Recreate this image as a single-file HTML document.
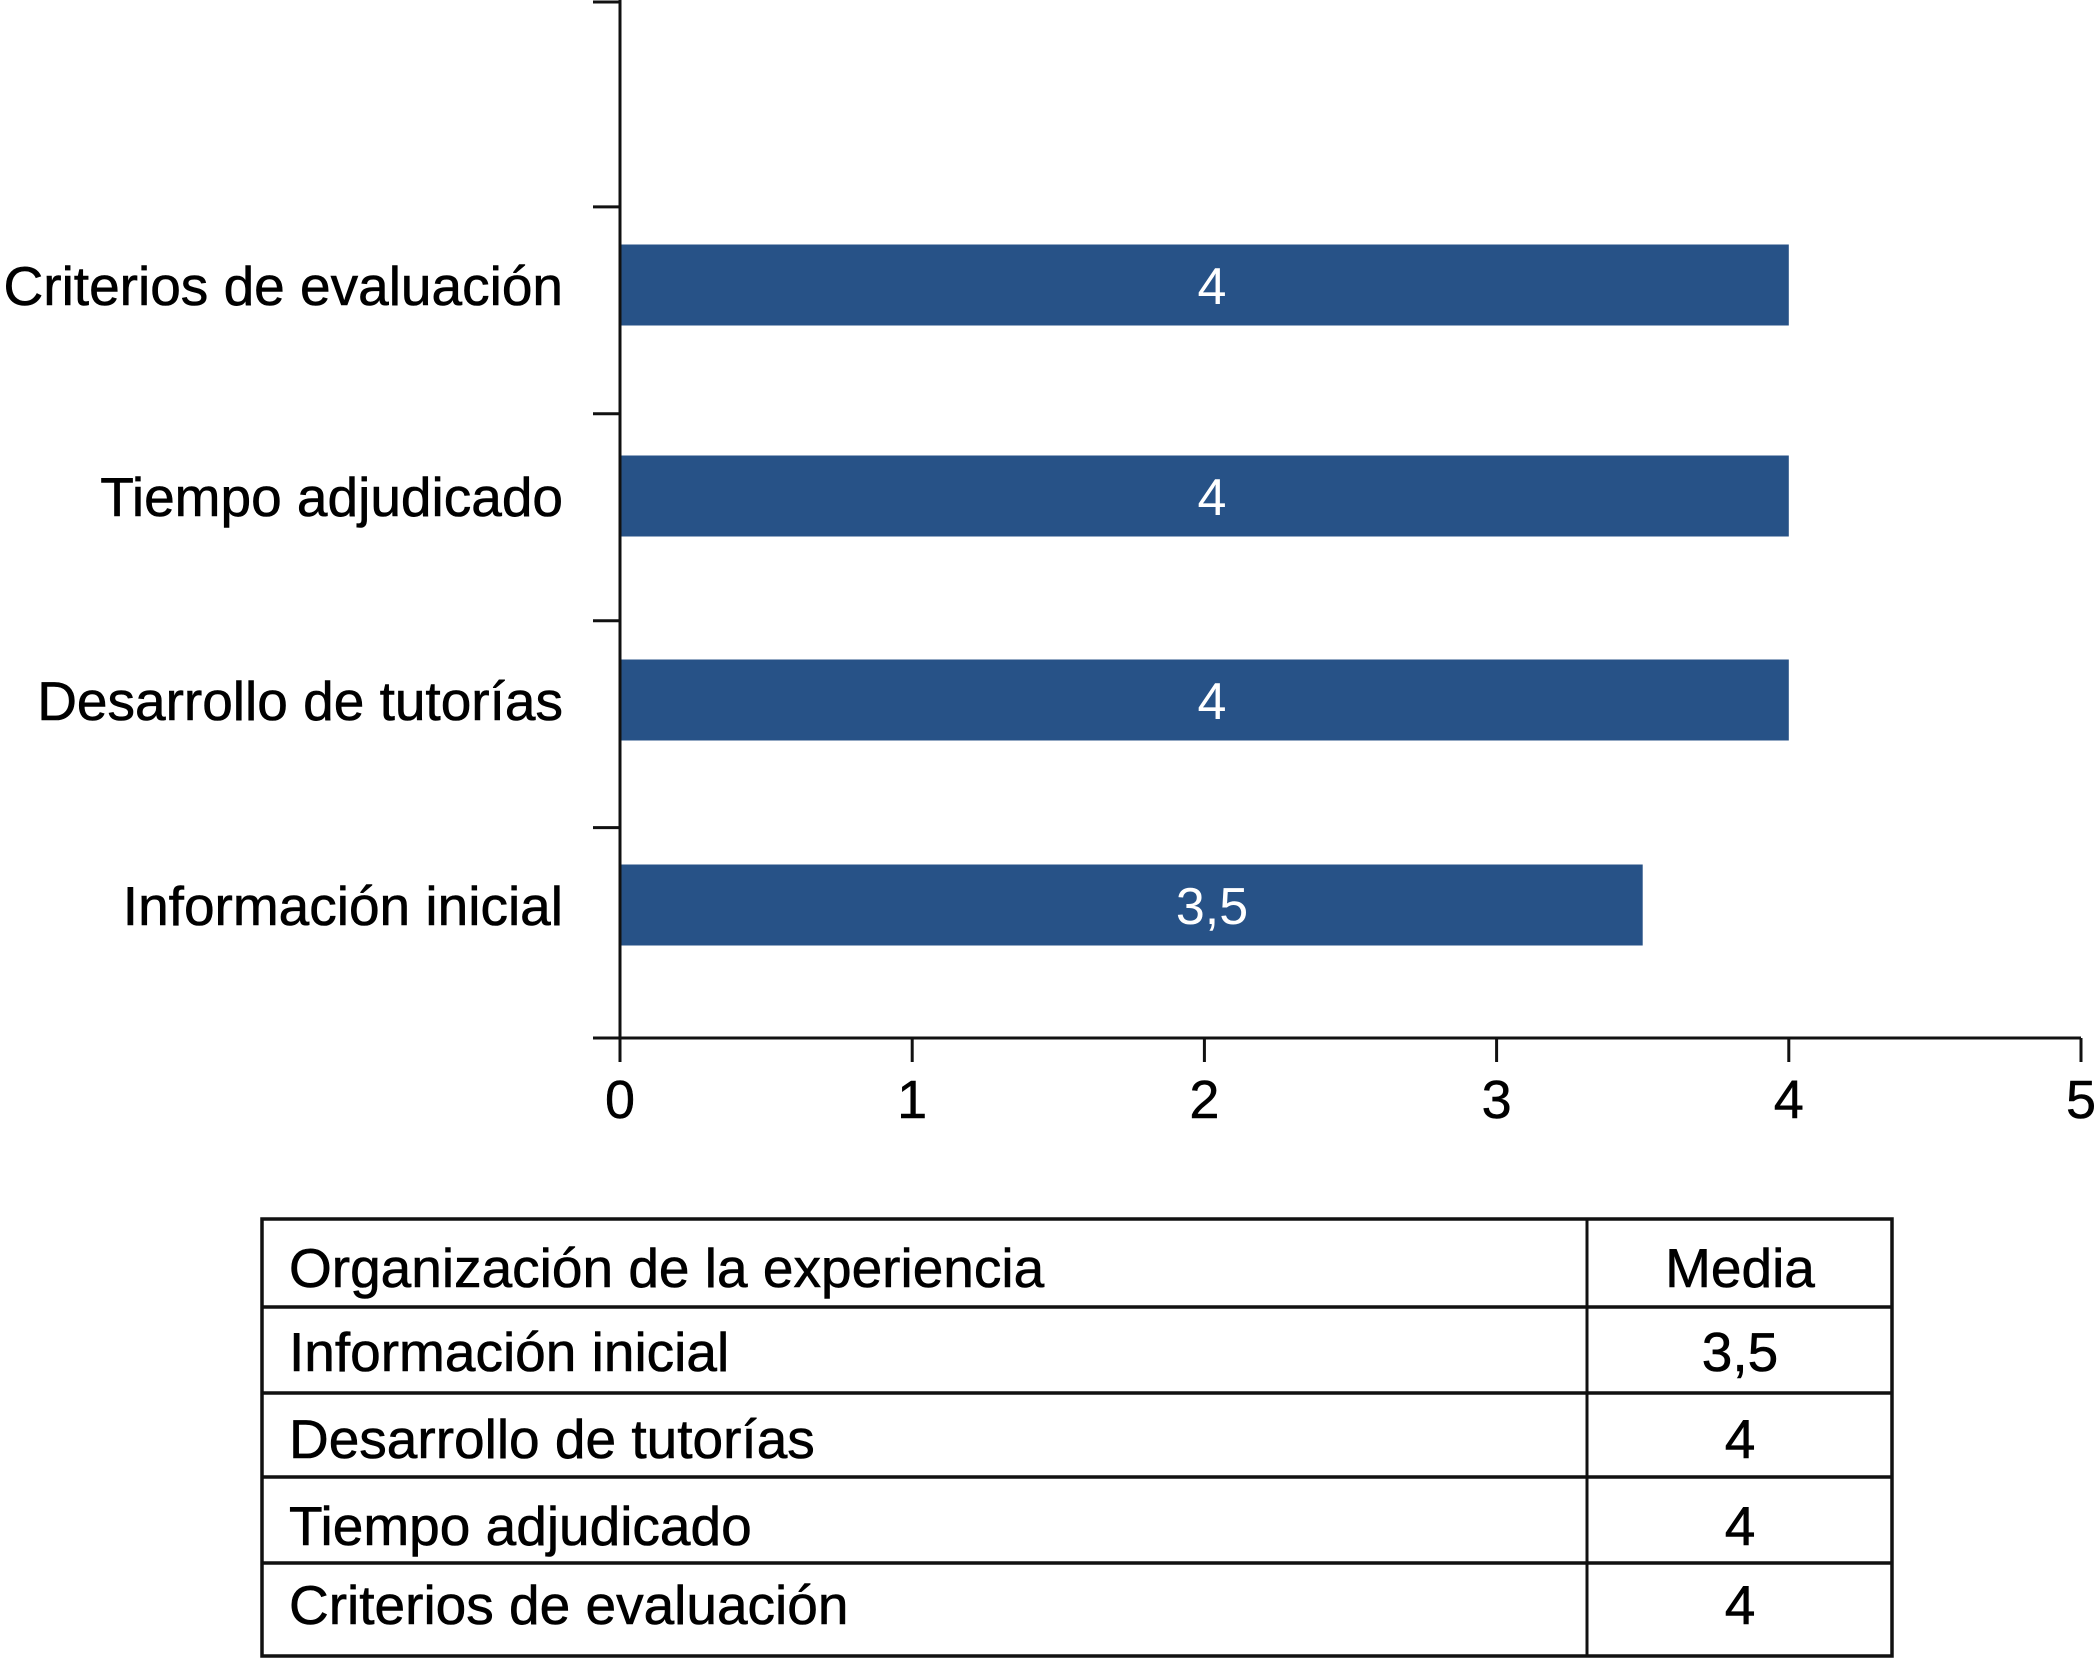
<!DOCTYPE html>
<html><head><meta charset="utf-8"><style>
html,body{margin:0;padding:0;background:#fff;}
svg{display:block;font-family:"Liberation Sans",Arial,sans-serif;}
</style></head><body>
<svg id="chart" width="2097" height="1659" viewBox="0 0 2097 1659">
<g id="plot"></g>
<g id="tbl"></g>
</svg>
<script>
const categories = ["Criterios de evaluación","Tiempo adjudicado","Desarrollo de tutorías","Información inicial"];
const values = [4,4,4,3.5];
const valueLabels = ["4","4","4","3,5"];
const xTicks = [0,1,2,3,4,5];
const xTickLabels = ["0","1","2","3","4","5"];
const tableHeader = ["Organización de la experiencia","Media"];
const tableRows = ["Información inicial","Desarrollo de tutorías","Tiempo adjudicado","Criterios de evaluación"];
const tableValues = ["3,5","4","4","4"];

const NS="http://www.w3.org/2000/svg";
const X0=620, X1=2081, Y0=0, Y1=1038;
const xs=v=>X0+(v-0)/(5-0)*(X1-X0);
const centers=[285,496,700,905];
function mk(tag,attrs,parent){const e=document.createElementNS(NS,tag);for(const k in attrs)e.setAttribute(k,attrs[k]);parent.appendChild(e);return e;}
const plot=document.getElementById('plot');

categories.forEach((c,i)=>{
  const cy=centers[i];
  const h=81;
  const r=mk('rect',{x:X0,y:cy-h/2,width:xs(values[i])-X0,height:h,fill:'#275287'},plot);
  
  
  const t=mk('text',{x:1212,y:cy+19,'font-size':52,fill:'#fff','text-anchor':'middle'},plot);
  t.textContent=valueLabels[i];
  
  
  const l=mk('text',{x:563,y:cy+20,'font-size':55,fill:'#000','text-anchor':'end',stroke:'#000','stroke-width':0.6},plot);
  l.textContent=c;
  
  
});
const ya=mk('line',{x1:X0,y1:Y0,x2:X0,y2:Y1+1,stroke:'#111','stroke-width':3},plot);


for(let k=0;k<=5;k++){
  const y=k===0?2:(k===5?Y1:Y0+k*206.9);
  const tk=mk('line',{x1:593,y1:y,x2:X0,y2:y,stroke:'#111','stroke-width':3},plot);
  
  
}
const xa=mk('line',{x1:X0,y1:Y1,x2:X1,y2:Y1,stroke:'#111','stroke-width':3},plot);


xTicks.forEach((v,i)=>{
  const x=xs(v);
  const tk=mk('line',{x1:x,y1:Y1,x2:x,y2:1062,stroke:'#111','stroke-width':3},plot);
  
  
  const t=mk('text',{x:x,y:1118,'font-size':54,fill:'#000','text-anchor':'middle',stroke:'#000','stroke-width':0.5},plot);
  t.textContent=xTickLabels[i];
  
  
});

const tbl=document.getElementById('tbl');
const TL=262, TR=1892, TC=1587;
const lines=[1219,1307,1393,1477,1563,1656];
const baselines=[1287,1371,1458,1545,1624];
mk('rect',{x:TL,y:lines[0],width:TR-TL,height:lines[5]-lines[0],fill:'none',stroke:'#111','stroke-width':3.5},tbl);
lines.slice(1,5).forEach(y=>mk('line',{x1:TL,y1:y,x2:TR,y2:y,stroke:'#111','stroke-width':3.5},tbl));
mk('line',{x1:TC,y1:lines[0],x2:TC,y2:lines[5],stroke:'#111','stroke-width':3},tbl);
const rows=[tableHeader].concat(tableRows.map((r,i)=>[r,tableValues[i]]));
rows.forEach((r,i)=>{
  const a=mk('text',{x:289,y:baselines[i],'font-size':55,fill:'#000',stroke:'#000','stroke-width':0.6},tbl);
  a.textContent=r[0];
  
  
  const b=mk('text',{x:1740,y:baselines[i],'font-size':55,fill:'#000','text-anchor':'middle',stroke:'#000','stroke-width':0.6},tbl);
  b.textContent=r[1];
  
  
});
</script>
</body></html>
